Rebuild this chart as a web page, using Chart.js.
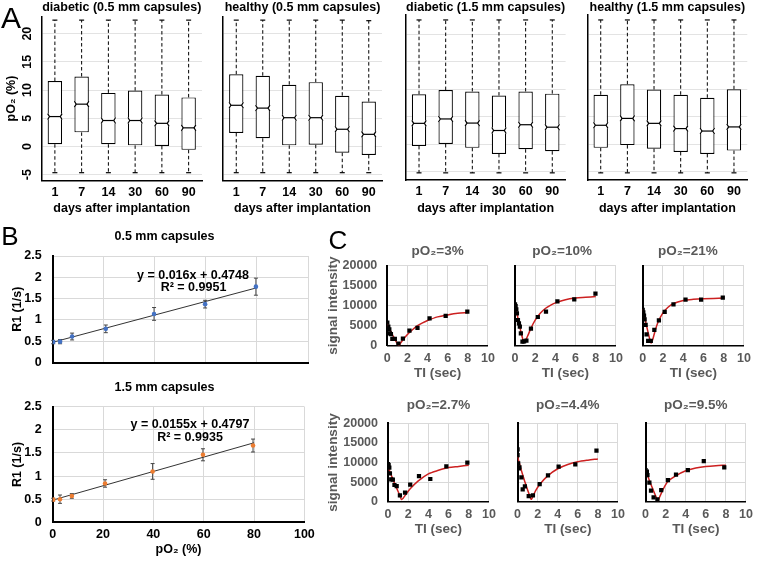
<!DOCTYPE html>
<html><head><meta charset="utf-8">
<script src="https://cdn.jsdelivr.net/npm/chart.js@4.4.1/dist/chart.umd.min.js"></script>
<style>
html,body{margin:0;padding:0;background:#fff}
body{position:relative;width:762px;height:561px;overflow:hidden}
canvas{position:absolute}
.t{position:absolute;white-space:nowrap;line-height:1;transform:translate(-50%,-50%);font-family:"Liberation Sans",Arial,Helvetica,sans-serif}
</style></head><body>
<script>
// ---------- Panel A: box plots ----------
const days = ['1','7','14','30','60','90'];
const yTicksA = [-5,0,5,10,15,20];
const diab05Q1 = [0.4, 2.5, 0.4, 0.2, 0.1, -0.6];
const diab05Med = [5.3, 7.5, 4.6, 4.6, 4.1, 3.3];
const diab05Q3 = [11.6, 12.4, 9.5, 9.9, 9.2, 8.7];
const diab05Min = [-4.65, -4.65, -4.65, -4.65, -4.65, -4.65];
const diab05Max = [22.4, 22.4, 22.4, 22.4, 22.4, 22.4];
const heal05Q1 = [2.4, 1.45, 0.2, 0.3, -1.1, -1.5];
const heal05Med = [7.3, 6.8, 5.1, 5.1, 3.05, 2.15];
const heal05Q3 = [12.8, 12.55, 10.95, 11.4, 9.0, 7.95];
const heal05Min = [-4.65, -4.65, -4.65, -4.65, -4.65, -4.65];
const heal05Max = [22.4, 22.4, 22.4, 22.4, 22.4, 22.3];
const diab15Q1 = [-0.3, 0.05, -0.65, -1.75, -0.9, -1.25];
const diab15Med = [3.8, 4.6, 3.85, 2.5, 3.55, 3.1];
const diab15Q3 = [9.1, 9.85, 9.6, 8.85, 9.6, 9.2];
const diab15Min = [-5.2, -5.2, -5.2, -5.2, -5.2, -5.2];
const diab15Max = [22.6, 22.6, 22.6, 22.6, 22.6, 22.6];
const heal15Q1 = [-0.65, -0.15, -0.8, -1.4, -1.75, -1.15];
const heal15Med = [3.45, 4.7, 3.8, 2.85, 2.4, 3.15];
const heal15Q3 = [9.0, 10.9, 9.95, 9.0, 8.45, 10.0];
const heal15Min = [-5.2, -5.2, -5.2, -5.2, -5.2, -5.2];
const heal15Max = [22.6, 22.6, 22.6, 22.6, 22.6, 22.6];

// ---------- Panel B: R1 calibration ----------
const xTicksB = [0,20,40,60,80,100];
const yTicksB = [0,0.5,1,1.5,2,2.5];
const pO2Levels = [0.2, 2.9, 7.6, 20.8, 39.7, 59.7, 79.6];
const r1Small = [0.48, 0.49, 0.61, 0.79, 1.14, 1.37, 1.78];
const r1SmallErr = [0.04, 0.05, 0.08, 0.09, 0.15, 0.09, 0.2];
const r1Large = [0.49, 0.5, 0.57, 0.84, 1.1, 1.46, 1.66];
const r1LargeErr = [0.03, 0.09, 0.05, 0.08, 0.17, 0.13, 0.14];
const trendX = [0, 80];
const trendSmallY = [0.4748, 1.7548];
const trendLargeY = [0.4797, 1.7197];

// ---------- Panel C: inversion recovery ----------
const xTicksC = [0,2,4,6,8,10];
const yTicksC = [0,5000,10000,15000,20000];
const ti3 = [0, 0.1, 0.2, 0.26, 0.36, 0.5, 0.75, 1.1, 1.55, 2.2, 3.0, 4.2, 5.8, 7.95];
const sig3 = [5760, 4760, 4090, 3090, 2920, 1680, 1680, 510, 1760, 3760, 4430, 6840, 7430, 8510];
const fit3T = [0, 0.25, 0.5, 0.75, 1.0, 1.15, 1.3, 1.6, 2, 2.5, 3, 3.5, 4, 5, 6, 7, 8];
const fit3S = [5500, 4100, 2800, 1600, 500, 0, 600, 1600, 2800, 4000, 5000, 5700, 6300, 7200, 7700, 8100, 8300];
const ti10 = [0, 0.06, 0.13, 0.19, 0.29, 0.39, 0.48, 0.58, 0.74, 0.9, 1.13, 1.58, 2.26, 3.07, 4.2, 5.87, 7.97];
const sig10 = [10340, 9925, 9090, 8090, 6425, 5590, 4760, 3090, 1010, 1090, 1260, 4260, 7175, 8510, 11090, 11590, 13010];
const fit10T = [0, 0.2, 0.4, 0.6, 0.8, 0.9, 1.05, 1.3, 1.6, 2, 2.5, 3, 3.5, 4, 5, 6, 7, 8];
const fit10S = [10500, 8000, 5600, 3300, 1400, 800, 1300, 2700, 4500, 6400, 8100, 9300, 10100, 10700, 11500, 11900, 12100, 12300];
const ti21 = [0, 0.06, 0.13, 0.19, 0.29, 0.38, 0.54, 0.8, 1.15, 1.6, 2.17, 3.04, 4.23, 5.77, 7.91];
const sig21 = [8930, 8340, 7510, 6590, 5180, 2840, 1180, 1180, 3930, 6340, 8430, 10340, 11510, 11510, 12010];
const fit21T = [0, 0.15, 0.3, 0.45, 0.6, 0.75, 0.85, 1.0, 1.2, 1.5, 2, 2.5, 3, 4, 5, 6, 8];
const fit21S = [9200, 7600, 5900, 4200, 2600, 1200, 700, 1600, 3500, 5800, 8200, 9600, 10500, 11300, 11600, 11750, 11900];
const ti27 = [0, 0.06, 0.13, 0.19, 0.32, 0.48, 0.64, 0.86, 1.18, 1.69, 2.2, 3.07, 4.19, 5.78, 7.86];
const sig27 = [9610, 9360, 8680, 7230, 5700, 5620, 4260, 4000, 1620, 2300, 4340, 6550, 5790, 9020, 9950];
const fit27T = [0, 0.2, 0.4, 0.6, 0.8, 1.0, 1.2, 1.32, 1.5, 1.8, 2.2, 3, 4, 5, 6, 7, 8];
const fit27S = [9000, 7600, 6300, 5000, 3800, 2600, 1400, 600, 900, 2000, 3300, 5300, 7100, 8000, 8700, 9000, 9300];
const ti44 = [0, 0, 0.06, 0.13, 0.19, 0.38, 0.51, 0.73, 1.11, 1.53, 2.2, 3.03, 4.09, 5.75, 7.86];
const sig44 = [13350, 11900, 9780, 8510, 8760, 6210, 3150, 3920, 1450, 1620, 4510, 6720, 8930, 9530, 13010];
const fit44T = [0, 0.2, 0.4, 0.6, 0.8, 1.0, 1.2, 1.35, 1.5, 1.8, 2.2, 3, 4, 5, 6, 7, 8];
const fit44S = [11500, 9600, 7800, 6100, 4500, 3000, 1600, 600, 1200, 2800, 4400, 6600, 8400, 9500, 10200, 10600, 10900];
const ti95 = [0, 0.06, 0.13, 0.19, 0.38, 0.54, 0.8, 1.18, 1.56, 2.23, 3.03, 4.21, 5.8, 7.84];
const sig95 = [8080, 7230, 7660, 6810, 4850, 2810, 1110, 600, 2980, 5530, 6890, 8080, 10380, 8760];
const fit95T = [0, 0.2, 0.4, 0.6, 0.8, 1.0, 1.12, 1.24, 1.4, 1.7, 2.2, 3, 4, 5, 6, 7, 8];
const fit95S = [8000, 6700, 5300, 4000, 2700, 1500, 800, 300, 1200, 2900, 5100, 6600, 7900, 8600, 9000, 9200, 9300];

// ---------- helpers ----------
const FF = '"Liberation Sans", Arial, Helvetica, sans-serif';
Chart.defaults.font.family = FF;
const zip = (xs, ys) => xs.map((v, i) => ({x: v, y: ys[i]}));
function seg(ctx, x1, y1, x2, y2){ctx.beginPath();ctx.moveTo(x1,y1);ctx.lineTo(x2,y2);ctx.stroke();}

const boxPlugin = {
  id: 'boxWhiskers',
  afterDatasetsDraw(chart){
    const ctx = chart.ctx, y = chart.scales.y, ds = chart.data.datasets[0], meta = chart.getDatasetMeta(0);
    ctx.save();
    meta.data.forEach((bar, i) => {
      const cx = bar.x, hw = bar.width / 2;
      const yq1 = y.getPixelForValue(ds.data[i][0]), yq3 = y.getPixelForValue(ds.data[i][1]);
      const ylo = y.getPixelForValue(ds.lo[i]), yhi = y.getPixelForValue(ds.hi[i]), ym = y.getPixelForValue(ds.med[i]);
      ctx.strokeStyle = '#000'; ctx.lineWidth = 1; ctx.setLineDash([3.5, 2.5]);
      seg(ctx, cx, yq3, cx, yhi); seg(ctx, cx, yq1, cx, ylo);
      ctx.setLineDash([]); ctx.lineWidth = 1.2;
      seg(ctx, cx-2.5, yhi, cx+2.5, yhi); seg(ctx, cx-2.5, ylo, cx+2.5, ylo);
      const n = 3, ins = 1.8;
      ctx.fillStyle = '#fff';
      ctx.fillRect(cx-hw-1, ym-n, ins+1.3, 2*n);
      ctx.fillRect(cx+hw-ins-0.3, ym-n, ins+1.3, 2*n);
      ctx.beginPath();
      ctx.moveTo(cx-hw, ym-n); ctx.lineTo(cx-hw+ins, ym); ctx.lineTo(cx-hw, ym+n);
      ctx.moveTo(cx+hw, ym-n); ctx.lineTo(cx+hw-ins, ym); ctx.lineTo(cx+hw, ym+n);
      ctx.stroke();
      seg(ctx, cx-hw+ins, ym, cx+hw-ins, ym);
    });
    ctx.restore();
  }
};

const errPlugin = {
  id: 'errBars',
  beforeDatasetsDraw(chart){
    const ctx = chart.ctx, {x, y} = chart.scales;
    ctx.save(); ctx.strokeStyle = '#444'; ctx.lineWidth = 1;
    chart.data.datasets.forEach(ds => {
      if (!ds.errors) return;
      ds.data.forEach((p, i) => {
        const px = x.getPixelForValue(p.x), yt = y.getPixelForValue(p.y + ds.errors[i]), yb = y.getPixelForValue(p.y - ds.errors[i]);
        seg(ctx, px, yt, px, yb); seg(ctx, px-2, yt, px+2, yt); seg(ctx, px-2, yb, px+2, yb);
      });
    });
    ctx.restore();
  }
};

function chartAt(s){
  const c = document.createElement('canvas');
  c.width = s.W; c.height = s.H;
  c.style.left = s.cl + 'px'; c.style.top = s.ct + 'px'; c.style.width = s.W + 'px'; c.style.height = s.H + 'px';
  document.body.appendChild(c);
  const pl = s.pl || 0;
  const tlh = s.titleFont.size * 1.2;
  const p1 = s.titleCY - s.ct - tlh / 2;
  const p2 = s.T - s.ct - tlh - p1;
  const yw = s.L - s.cl - pl, xh = s.ct + s.H - s.B, pr = s.cl + s.W - s.R;
  s.xScale.afterFit = sc => { sc.height = xh; };
  s.yScale.afterFit = sc => { sc.width = yw; };
  if (s.xScale.title && s.xScale.title.display) { const lh = s.xScale.title.font.size * 1.2; s.xScale.title.padding = {top: 0, bottom: s.ct + s.H - s.xTitleCY - lh / 2}; }
  if (s.yScale.title && s.yScale.title.display) { const lh = s.yScale.title.font.size * 1.2; s.yScale.title.padding = {top: s.yTitleCX - s.cl - pl - lh / 2, bottom: 0}; }
  return new Chart(c, {type: s.type, data: s.data, options: {
    responsive: false, animation: false, devicePixelRatio: 1,
    layout: {padding: {left: pl, right: pr, top: 0, bottom: 0}},
    plugins: {legend: {display: false}, tooltip: {enabled: false},
      title: {display: true, text: s.titleText, fullSize: !!s.titleFull, font: s.titleFont, color: s.titleColor, padding: {top: p1, bottom: p2}}},
    scales: {x: s.xScale, y: s.yScale}}, plugins: s.plugins || []});
}

function boxPanel(o){
  const bold = {size: 12.5, weight: 'bold'};
  return chartAt({
    cl: o.cl, ct: 0, W: o.W, H: 217, L: o.L, T: o.T, R: o.R, B: o.B,
    titleText: o.title, titleCY: 8, titleFull: false, titleFont: bold, titleColor: '#000',
    xTitleCY: 209, yTitleCX: 11.5, type: 'bar',
    data: {labels: days, datasets: [{data: days.map((d, i) => [o.q1[i], o.q3[i]]), med: o.med, lo: o.lo, hi: o.hi,
      backgroundColor: '#fff', borderColor: '#000', borderWidth: 1.2, borderSkipped: false, barPercentage: 0.54, categoryPercentage: 1}]},
    xScale: {type: 'category', grid: {display: false, drawTicks: false}, border: {display: true, color: '#000', width: 1.5},
      ticks: {color: '#000', font: bold, padding: 4.5, maxRotation: 0, autoSkip: false},
      title: {display: true, text: 'days after implantation', color: '#000', font: bold}},
    yScale: {type: 'linear', min: o.yMin, max: o.yMax, afterBuildTicks: sc => { sc.ticks = yTicksA.map(v => ({value: v})); },
      grid: {color: '#e3e3e3', drawTicks: false}, border: {display: true, color: '#000', width: 1.5},
      ticks: {display: o.showY, minRotation: 90, maxRotation: 90, crossAlign: 'center', padding: 7, color: '#000', font: bold, callback: v => String(v)},
      title: {display: o.showY, text: 'pO\u2082 (%)', color: '#000', font: bold}},
    plugins: [boxPlugin]
  });
}

boxPanel({cl: 0, W: 204, L: 41.5, R: 202, T: 16.74, B: 180.3, yMin: -6, yMax: 23, showY: true, title: 'diabetic (0.5 mm capsules)',
  q1: diab05Q1, med: diab05Med, q3: diab05Q3, lo: diab05Min, hi: diab05Max});
boxPanel({cl: 205, W: 179, L: 223, R: 382, T: 16.74, B: 180.3, yMin: -6, yMax: 23, showY: false, title: 'healthy (0.5 mm capsules)',
  q1: heal05Q1, med: heal05Med, q3: heal05Q3, lo: heal05Min, hi: heal05Max});
boxPanel({cl: 388, W: 180, L: 405.7, R: 565.6, T: 15, B: 180, yMin: -6.5, yMax: 23.5, showY: false, title: 'diabetic (1.5 mm capsules)',
  q1: diab15Q1, med: diab15Med, q3: diab15Q3, lo: diab15Min, hi: diab15Max});
boxPanel({cl: 570, W: 180, L: 587.4, R: 747.3, T: 15, B: 180, yMin: -6.5, yMax: 23.5, showY: false, title: 'healthy (1.5 mm capsules)',
  q1: heal15Q1, med: heal15Med, q3: heal15Q3, lo: heal15Min, hi: heal15Max});

function r1Panel(o){
  const bold = {size: 12.5, weight: 'bold'};
  return chartAt({
    cl: 0, ct: o.ct, W: 320, H: o.H, pl: 21, L: 52.7, T: o.T, R: 308, B: o.B,
    titleText: o.title, titleCY: o.titleCY, titleFull: true, titleFont: bold, titleColor: '#000',
    xTitleCY: 550, yTitleCX: 18, type: 'scatter',
    data: {datasets: [
      {data: zip(pO2Levels, o.vals), errors: o.err, pointRadius: 2.3, pointBackgroundColor: o.color, pointBorderWidth: 0, showLine: false},
      {data: zip(trendX, o.trend), showLine: true, borderColor: '#333', borderWidth: 1, pointRadius: 0}
    ]},
    xScale: {type: 'linear', min: 0, max: 100, afterBuildTicks: sc => { sc.ticks = xTicksB.map(v => ({value: v})); },
      grid: {color: '#d9d9d9', drawTicks: false}, border: {color: '#000', width: 2},
      ticks: {display: o.showX, color: '#000', font: bold, padding: 5.2, callback: v => String(v)},
      title: {display: o.showX, text: 'pO\u2082 (%)', color: '#000', font: bold}},
    yScale: {type: 'linear', min: 0, max: 2.5, afterBuildTicks: sc => { sc.ticks = yTicksB.map(v => ({value: v})); },
      grid: {color: '#d9d9d9', drawTicks: false}, border: {color: '#000', width: 2},
      ticks: {color: '#000', font: bold, padding: 11, callback: v => String(v)},
      title: {display: true, text: 'R1 (1/s)', color: '#000', font: bold}},
    plugins: [errPlugin]
  });
}
r1Panel({ct: 225, H: 156, T: 256, B: 370.7, titleCY: 237, title: '0.5 mm capsules', showX: false,
  vals: r1Small, err: r1SmallErr, trend: trendSmallY, color: '#4472C4'});
r1Panel({ct: 377, H: 181, T: 406.7, B: 522.3, titleCY: 388, title: '1.5 mm capsules', showX: true,
  vals: r1Large, err: r1LargeErr, trend: trendLargeY, color: '#ED7D31'});

function irPanel(o){
  const gray = '#595959';
  const tick = {size: 12.5, weight: 'bold'}, ttl = {size: 13.5, weight: 'bold'};
  return chartAt({
    cl: o.cl, ct: o.ct, W: o.W, H: o.H, L: o.L, T: o.T, R: o.R, B: o.B,
    titleText: o.title, titleCY: o.titleCY, titleFull: o.full, titleFont: {size: 13.5, weight: 'bold'}, titleColor: gray,
    xTitleCY: o.xTitleCY, yTitleCX: 333, type: 'scatter',
    data: {datasets: [
      {data: zip(o.ti, o.sig), pointStyle: 'rect', pointRadius: 3, pointBackgroundColor: '#000', pointBorderWidth: 0, showLine: false},
      {data: zip(o.fitT, o.fitS), showLine: true, borderColor: '#CC2020', borderWidth: 1.5, pointRadius: 0, tension: 0.3}
    ]},
    xScale: {type: 'linear', min: 0, max: 10, afterBuildTicks: sc => { sc.ticks = xTicksC.map(v => ({value: v})); },
      grid: {color: '#d9d9d9', drawTicks: false}, border: {color: '#000', width: 1.5},
      ticks: {color: gray, font: tick, padding: 5.1, callback: v => String(v)},
      title: {display: true, text: 'TI (sec)', color: gray, font: ttl}},
    yScale: {type: 'linear', min: 0, max: 20000, afterBuildTicks: sc => { sc.ticks = yTicksC.map(v => ({value: v})); },
      grid: {color: '#d9d9d9', drawTicks: false}, border: {color: '#000', width: 2},
      ticks: {display: o.showY, color: gray, font: tick, padding: 10, callback: v => String(v)},
      title: {display: o.showY, text: 'signal intensity', color: gray, font: ttl}}
  });
}
const topRow = {ct: 240, H: 142, T: 265.7, B: 345.7, titleCY: 251.7, xTitleCY: 373.3};
const botRow = {ct: 395, H: 143, T: 423.3, B: 501.7, titleCY: 405.7, xTitleCY: 529};
irPanel(Object.assign({}, topRow, {cl: 320, W: 180, L: 387.3, R: 490.7, full: false, showY: true, title: 'pO\u2082=3%', ti: ti3, sig: sig3, fitT: fit3T, fitS: fit3S}));
irPanel(Object.assign({}, topRow, {cl: 506, W: 122, L: 515, R: 618.3, full: true, showY: false, title: 'pO\u2082=10%', ti: ti10, sig: sig10, fitT: fit10T, fitS: fit10S}));
irPanel(Object.assign({}, topRow, {cl: 629, W: 127, L: 642.7, R: 746.7, full: true, showY: false, title: 'pO\u2082=21%', ti: ti21, sig: sig21, fitT: fit21T, fitS: fit21S}));
irPanel(Object.assign({}, botRow, {cl: 320, W: 181, L: 388, R: 492.3, full: false, showY: true, title: 'pO\u2082=2.7%', ti: ti27, sig: sig27, fitT: fit27T, fitS: fit27S}));
irPanel(Object.assign({}, botRow, {cl: 509, W: 121, L: 516.7, R: 621, full: false, showY: false, title: 'pO\u2082=4.4%', ti: ti44, sig: sig44, fitT: fit44T, fitS: fit44S}));
irPanel(Object.assign({}, botRow, {cl: 637, W: 121, L: 644.3, R: 749, full: false, showY: false, title: 'pO\u2082=9.5%', ti: ti95, sig: sig95, fitT: fit95T, fitS: fit95S}));

// ---------- text overlays ----------
function txt(t, x, y, size, weight, color){
  const d = document.createElement('div'); d.className = 't'; d.textContent = t;
  d.style.left = x + 'px'; d.style.top = y + 'px'; d.style.fontSize = size + 'px'; d.style.fontWeight = weight; d.style.color = color || '#000';
  document.body.appendChild(d);
}
txt('A', 11, 17.5, 30, 'normal');
txt('B', 10, 236, 26, 'normal');
txt('C', 338, 239.5, 26, 'normal');
txt('y = 0.016x + 0.4748', 193, 274.5, 12.5, 'bold');
txt('R\u00B2 = 0.9951', 193.5, 287, 12.5, 'bold');
txt('y = 0.0155x + 0.4797', 190, 424, 12.5, 'bold');
txt('R\u00B2 = 0.9935', 190, 437, 12.5, 'bold');
</script>
</body></html>
